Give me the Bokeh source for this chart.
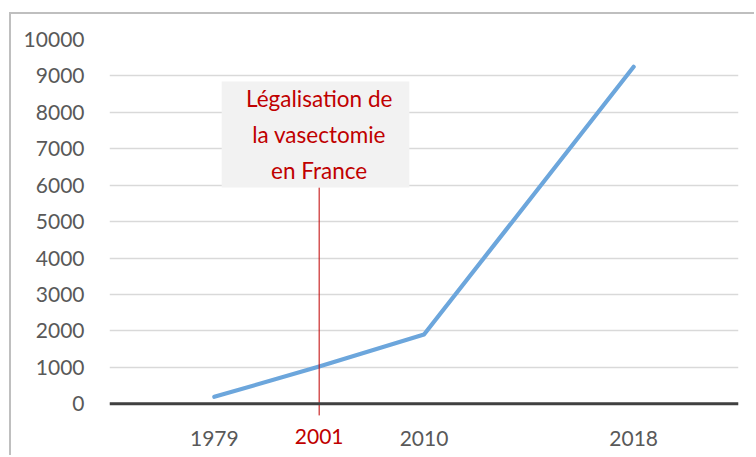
from bokeh.plotting import figure
from bokeh.models import Range1d, FixedTicker, Span, ColumnDataSource, LinearAxis
from bokeh.core.properties import value
from bokeh.embed import file_html
from bokeh.resources import INLINE

# ---- data ----
years = ["1979", "2001", "2010", "2018"]
x_pos = [1, 2, 3, 5]
values = [190, 1020, 1900, 9250]
y_ticks = [0, 1000, 2000, 3000, 4000, 5000, 6000, 7000, 8000, 9000, 10000]
axis_years = ["1979", "2010", "2018"]
axis_pos = [1, 3, 5]
marker_year = "2001"
marker_pos = 2
marker_text = "Légalisation de\nla vasectomie\nen France"

FONT = "Lato"
GRAY = "#595959"
RED = "#C00000"

p = figure(width=745, height=443, x_range=Range1d(0, 6), y_range=Range1d(-350, 10000),
           output_backend="svg", toolbar_location=None,
           min_border_left=98, min_border_right=18, min_border_top=25, min_border_bottom=41)
p.outline_line_color = None
p.background_fill_color = "white"
p.border_fill_color = "white"
p.styles = {"margin-left": "9px", "margin-top": "12px",
            "border-left": "2px solid #BFBFBF", "border-top": "2px solid #BFBFBF"}

src = ColumnDataSource(dict(x=x_pos, y=values))
p.line("x", "y", source=src, line_color="#6CA6DC", line_width=4.2, line_cap="round", line_join="round")

# grid
p.xgrid.visible = False
p.ygrid.ticker = FixedTicker(ticks=y_ticks)
p.ygrid.grid_line_color = "#D9D9D9"
p.ygrid.grid_line_width = 1.5

# axes
p.yaxis.ticker = FixedTicker(ticks=y_ticks)
p.yaxis.axis_line_color = None
p.yaxis.major_tick_line_color = None
p.yaxis.minor_tick_line_color = None
p.yaxis.major_label_text_font = FONT
p.yaxis.major_label_text_font_size = "21px"
p.yaxis.major_label_text_color = GRAY
p.yaxis.major_label_standoff = 19

p.xaxis.ticker = FixedTicker(ticks=axis_pos)
p.xaxis.major_label_overrides = {x: y for x, y in zip(axis_pos, axis_years)}
p.xaxis.axis_line_color = None
p.xaxis.major_tick_line_color = None
p.xaxis.minor_tick_line_color = None
p.xaxis.major_label_text_font = FONT
p.xaxis.major_label_text_font_size = "21px"
p.xaxis.major_label_text_color = GRAY
p.xaxis.major_label_standoff = 8

red_axis = LinearAxis(ticker=FixedTicker(ticks=[marker_pos]),
                      major_label_overrides={marker_pos: marker_year},
                      axis_line_color=None, major_tick_line_color=None, minor_tick_line_color=None,
                      major_label_text_font=FONT, major_label_text_font_size="21px",
                      major_label_text_color=RED, major_label_standoff=-26)
p.add_layout(red_axis, "below")

# baseline axis line at 0
p.add_layout(Span(location=0, dimension="width", line_color="#404040", line_width=3))

# marker
p.segment(x0=[marker_pos], y0=[-320], x1=[marker_pos], y1=[5940], line_color=RED, line_width=1)
p.quad(left=[marker_pos - 0.93], right=[marker_pos + 0.86], top=[8850], bottom=[5940],
       fill_color="#F2F2F2", line_color=None)
p.text(x=[marker_pos], y=[7394], text=[marker_text], text_align="center", text_baseline="middle",
       text_font=value(FONT), text_font_size="22.5px", text_color=RED, text_line_height=1.33)

open("out.html", "w").write(file_html(p, INLINE))
